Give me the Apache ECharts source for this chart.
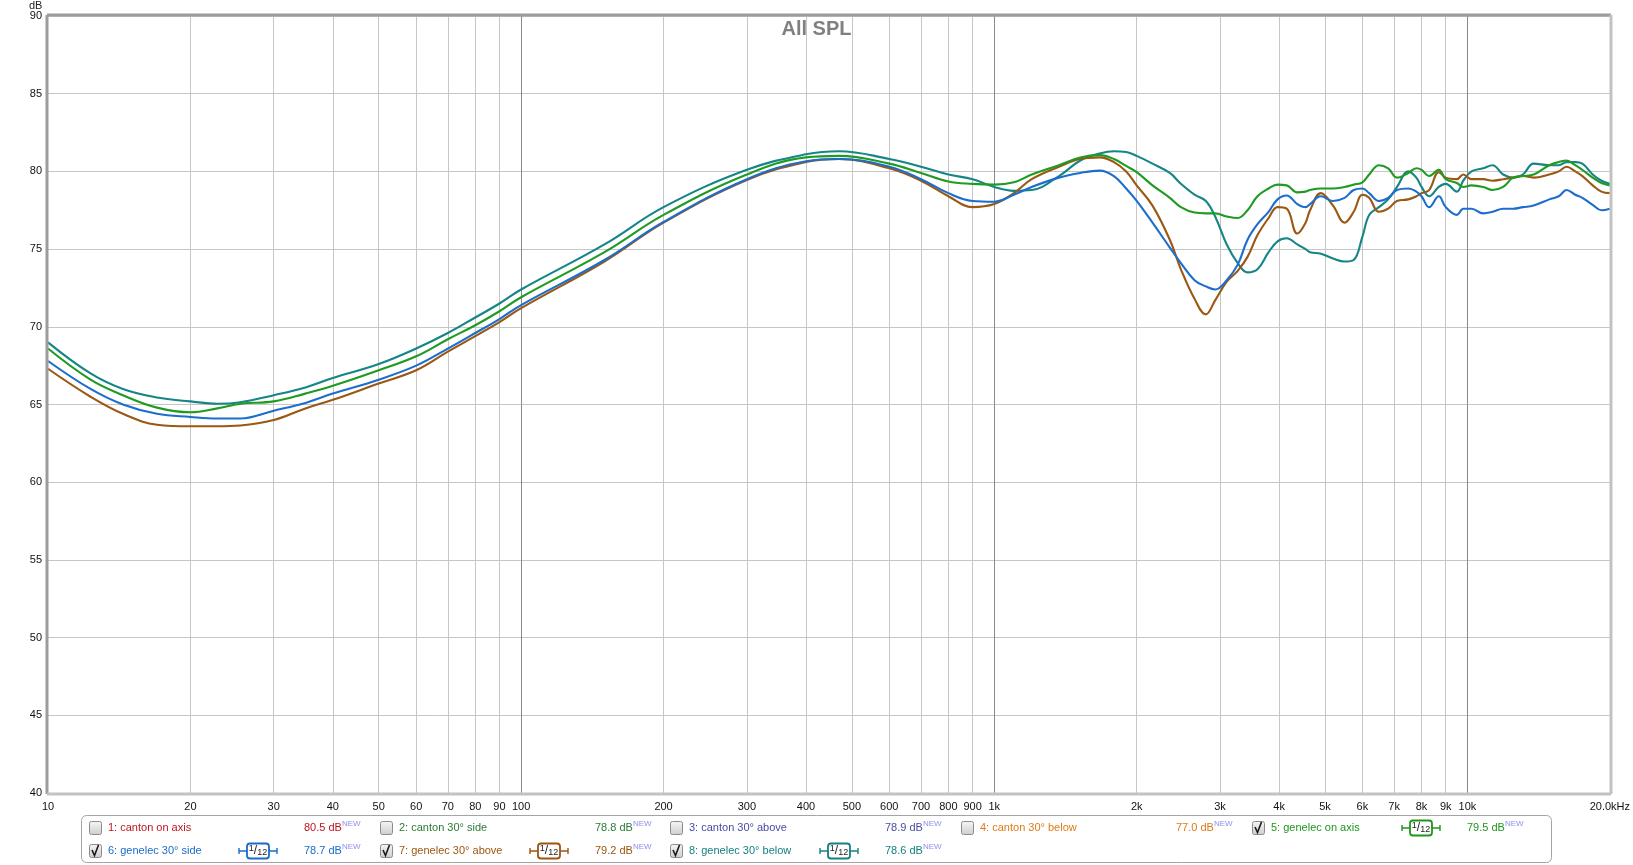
<!DOCTYPE html>
<html><head><meta charset="utf-8">
<script src="https://cdn.jsdelivr.net/npm/echarts@6/dist/echarts.min.js"></script>
<style>html,body{margin:0;padding:0;background:#fff}#c{width:1633px;height:865px}</style>
</head><body><div id="c"></div>
<script>
// ---------- data ----------
const freqs = [10,12.3,14.4,17,20,22.8,25.5,30,35,40,50,60,70,80,90,100,150,200,300,400,470,600,700,800,900,
  1000,1100,1200,1370,1520,1670,1790,1900,2000,2160,2350,2480,2650,2800,2930,3100,3270,3430,3600,3800,3970,
  4150,4370,4550,4650,4900,5200,5500,5750,6000,6200,6500,6800,7100,7500,7800,8000,8300,8700,9000,9500,9800,
  10200,10800,11300,11900,12500,13100,13800,14900,15600,16200,16900,17500,18400,19200,20000];

// 5: genelec on axis (green)
const genelecOnAxis = [68.6,66.6,65.6,64.8,64.5,64.75,65.05,65.2,65.7,66.2,67.2,68.1,69.2,70.1,71.0,71.9,74.8,77.2,79.8,80.9,81.0,80.5,79.9,79.35,79.2,
  79.15,79.3,79.8,80.4,80.9,81.05,80.8,80.35,79.95,79.1,78.3,77.7,77.35,77.3,77.3,77.1,77.0,77.5,78.4,78.9,79.15,
  79.1,78.65,78.7,78.8,78.9,78.9,79.0,79.15,79.3,79.8,80.4,80.2,79.6,79.9,80.2,80.1,79.7,80.1,79.5,79.25,79.0,
  79.1,79.0,78.8,79.0,79.6,79.7,79.8,80.4,80.6,80.7,80.4,80.1,79.6,79.25,79.1];
// 6: genelec 30° side (blue)
const genelec30Side = [67.8,66.0,65.0,64.4,64.2,64.1,64.1,64.6,65.1,65.7,66.6,67.5,68.6,69.6,70.5,71.4,74.3,76.75,79.5,80.65,80.8,80.3,79.5,78.6,78.1,
  78.05,78.5,79.0,79.6,79.9,80.05,79.7,78.9,78.1,76.7,75.1,74.1,73.0,72.6,72.4,73.0,74.0,75.6,76.6,77.4,78.2,
  78.45,77.9,77.7,77.9,78.4,78.1,78.3,78.8,78.9,78.6,78.1,78.3,78.8,78.9,78.7,78.4,77.7,78.4,77.7,77.2,77.6,
  77.6,77.3,77.4,77.6,77.6,77.7,77.8,78.2,78.4,78.8,78.5,78.3,77.85,77.5,77.6];
// 7: genelec 30° above (brown)
const genelec30Above = [67.3,65.5,64.4,63.7,63.6,63.6,63.65,64.0,64.75,65.3,66.35,67.2,68.4,69.4,70.3,71.2,74.2,76.7,79.45,80.6,80.8,80.2,79.4,78.4,77.7,
  77.9,78.6,79.5,80.3,80.8,80.9,80.6,80.0,79.1,77.8,75.6,73.7,71.8,70.8,71.7,72.9,73.6,74.5,75.9,77.0,77.7,
  77.6,76.0,76.7,77.5,78.6,77.8,76.7,77.4,78.5,78.3,77.4,77.6,78.1,78.2,78.4,78.6,78.8,79.95,79.6,79.5,79.8,
  79.5,79.5,79.4,79.5,79.6,79.7,79.6,79.8,80.0,80.3,80.0,79.7,79.1,78.7,78.6];
// 8: genelec 30° below (teal)
const genelec30Below = [69.0,67.0,66.0,65.45,65.2,65.05,65.15,65.6,66.1,66.7,67.6,68.6,69.6,70.6,71.5,72.4,75.3,77.7,80.1,81.1,81.3,80.8,80.3,79.8,79.5,
  79.0,78.75,78.8,79.7,80.7,81.15,81.3,81.25,81.0,80.5,79.9,79.2,78.5,78.1,77.1,75.3,74.1,73.5,73.7,74.8,75.5,
  75.7,75.3,75.0,74.8,74.7,74.4,74.2,74.3,75.8,77.2,77.7,78.2,79.0,80.0,79.6,79.0,78.4,79.0,79.2,78.7,79.4,
  80.0,80.2,80.4,79.8,79.6,79.8,80.5,80.4,80.4,80.6,80.6,80.5,79.8,79.4,79.2];

const xTickValues = [10,20,30,40,50,60,70,80,90,100,200,300,400,500,600,700,800,900,
  1000,2000,3000,4000,5000,6000,7000,8000,9000,10000,20000];
const xTickLabels = ['10','20','30','40','50','60','70','80','90','100','200','300','400','500','600','700','800','900',
  '1k','2k','3k','4k','5k','6k','7k','8k','9k','10k','20.0kHz'];
const xGridValues = [20,30,40,50,60,70,80,90,100,200,300,400,500,600,700,800,900,
  1000,2000,3000,4000,5000,6000,7000,8000,9000,10000];
const decadeValues = [100,1000,10000];

const legendLabels = ['1: canton on axis','2: canton 30° side','3: canton 30° above','4: canton 30° below',
  '5: genelec on axis','6: genelec 30° side','7: genelec 30° above','8: genelec 30° below'];
const legendValues = ['80.5','78.8','78.9','77.0','79.5','78.7','79.2','78.6'];
const legendChecked = [false,false,false,false,true,true,true,true];

// ---------- styles ----------
const legendColors = ['#c01420','#2b7b35','#4a4aa6','#e07a18','#1e961e','#1a6cc8','#9c5610','#158080'];
const FONT = '"Liberation Sans",Arial,sans-serif';

const visibleSeries = [
  {name:'5: genelec on axis', values: genelecOnAxis, color:'#1f9a22'},
  {name:'6: genelec 30° side', values: genelec30Side, color:'#1c6dcc'},
  {name:'7: genelec 30° above', values: genelec30Above, color:'#9a5812'},
  {name:'8: genelec 30° below', values: genelec30Below, color:'#168585'}
];

const chart = echarts.init(document.getElementById('c'), null, {renderer:'canvas'});

const GL = 48, GT = 16, GW = 1562, GH = 777;

const series = [{
  type:'line', name:'grid', data:[[10,40]], showSymbol:false, symbol:'none',
  lineStyle:{opacity:0}, silent:true, z:1, animation:false,
  markLine:{
    silent:true, symbol:['none','none'], z:1, animation:false,
    label:{show:false},
    data: xGridValues.map(v => ({xAxis:v, lineStyle:{
      color: decadeValues.includes(v) ? '#8a8a8a' : '#c6c6c6', width:1, type:'solid'}}))
  }
}];
[3,2,1,0].forEach(i => {
  const s = visibleSeries[i];
  series.push({
    type:'line', name:s.name, data: freqs.map((f,k)=>[f, s.values[k]]),
    showSymbol:false, symbol:'none', smooth:0.4, z:3, animation:false,
    lineStyle:{color:s.color, width:2.1}
  });
});

// ---------- frame & legend graphics ----------
const graphics = [];
graphics.push({type:'line', shape:{x1:GL-1, y1:GT-1, x2:GL+GW+1, y2:GT-1}, style:{stroke:'#9c9c9c', lineWidth:3}, z:10});
graphics.push({type:'line', shape:{x1:GL-1, y1:GT-1, x2:GL-1, y2:GT+GH+1}, style:{stroke:'#9c9c9c', lineWidth:3}, z:10});
graphics.push({type:'line', shape:{x1:GL-1, y1:GT+GH+1, x2:GL+GW+1, y2:GT+GH+1}, style:{stroke:'#c2c2c2', lineWidth:3}, z:10});
graphics.push({type:'line', shape:{x1:GL+GW+1, y1:GT-1, x2:GL+GW+1, y2:GT+GH+1}, style:{stroke:'#c2c2c2', lineWidth:3}, z:10});
graphics.push({type:'text', left:29, top:0, style:{text:'dB', font:'11px '+FONT, fill:'#222'}});
graphics.push({type:'rect', shape:{x:81.5, y:815.5, width:1470, height:47, r:5}, style:{fill:'#fff', stroke:'#a4a4a4', lineWidth:1}});
for (let i = 0; i < 8; i++) {
  const row = i < 5 ? 0 : 1, col = i < 5 ? i : i - 5;
  const x0 = Math.round(89 + col * 290.7), yc = row ? 851 : 828;
  const color = legendColors[i];
  graphics.push({type:'rect', shape:{x:x0+0.5, y:yc-6.5, width:12, height:13, r:2},
    style:{stroke:'#8c8c8c', lineWidth:1,
      fill:new echarts.graphic.LinearGradient(0,0,0,1,[{offset:0,color:'#f6f6f6'},{offset:1,color:'#cdcdcd'}])}});
  if (legendChecked[i]) {
    graphics.push({type:'polyline', shape:{points:[[x0+3,yc-1],[x0+5.5,yc+4.5],[x0+9.5,yc-6]]},
      style:{stroke:'#1a1a1a', lineWidth:1.6, fill:null}});
    const cx = x0 + 169;
    graphics.push({type:'line', shape:{x1:cx-19, y1:yc, x2:cx+19, y2:yc}, style:{stroke:color, lineWidth:1.6}});
    graphics.push({type:'line', shape:{x1:cx-19, y1:yc-3, x2:cx-19, y2:yc+3}, style:{stroke:color, lineWidth:1.4}});
    graphics.push({type:'line', shape:{x1:cx+19, y1:yc-3, x2:cx+19, y2:yc+3}, style:{stroke:color, lineWidth:1.4}});
    graphics.push({type:'rect', shape:{x:cx-11, y:yc-7.5, width:22, height:15, r:3},
      style:{fill:'#fff', stroke:color, lineWidth:1.8}});
    graphics.push({type:'text', x:cx, y:yc, style:{
      text:'{a|1}{b|/}{c|12}', align:'center', verticalAlign:'middle',
      rich:{a:{font:'9px '+FONT, fill:'#222', verticalAlign:'top', lineHeight:13},
            b:{font:'12px '+FONT, fill:'#222', lineHeight:13},
            c:{font:'9px '+FONT, fill:'#222', verticalAlign:'bottom', lineHeight:13}}}});
  }
  graphics.push({type:'text', x:x0+19, y:yc, style:{text:legendLabels[i], font:'11px '+FONT, fill:color, verticalAlign:'middle'}});
  graphics.push({type:'text', x:x0+215, y:yc-1.5, style:{
    text:'{v|'+legendValues[i]+' dB}{n|NEW}', verticalAlign:'middle',
    rich:{v:{font:'11px '+FONT, fill:color, lineHeight:14, verticalAlign:'bottom'},
          n:{font:'8px '+FONT, fill:'#8e8ef0', lineHeight:14, verticalAlign:'top'}}}});
}

chart.setOption({
  animation:false,
  backgroundColor:'#ffffff',
  title:{text:'All SPL', left:'center', top:14,
    textStyle:{color:'#808080', fontSize:20, fontWeight:'bold', fontFamily:FONT}},
  grid:{left:GL, top:GT, width:GW, height:GH, show:false},
  xAxis:{type:'log', logBase:10, min:10, max:20000,
    axisLine:{show:false}, axisTick:{show:false}, splitLine:{show:false}, minorSplitLine:{show:false},
    axisLabel:{customValues:xTickValues, color:'#111', fontSize:11, fontFamily:FONT, margin:8,
      showMinLabel:true, showMaxLabel:true, hideOverlap:false,
      formatter:(v)=>{ const k = xTickValues.findIndex(t => Math.abs(t - v) / t < 1e-6); return k >= 0 ? xTickLabels[k] : ''; }}
  },
  yAxis:{type:'value', min:40, max:90, interval:5,
    axisLine:{show:false}, axisTick:{show:false},
    splitLine:{show:true, lineStyle:{color:'#c6c6c6', width:1}},
    axisLabel:{color:'#111', fontSize:11, fontFamily:FONT, margin:6}
  },
  graphic:graphics,
  series:series
});
</script></body></html>
